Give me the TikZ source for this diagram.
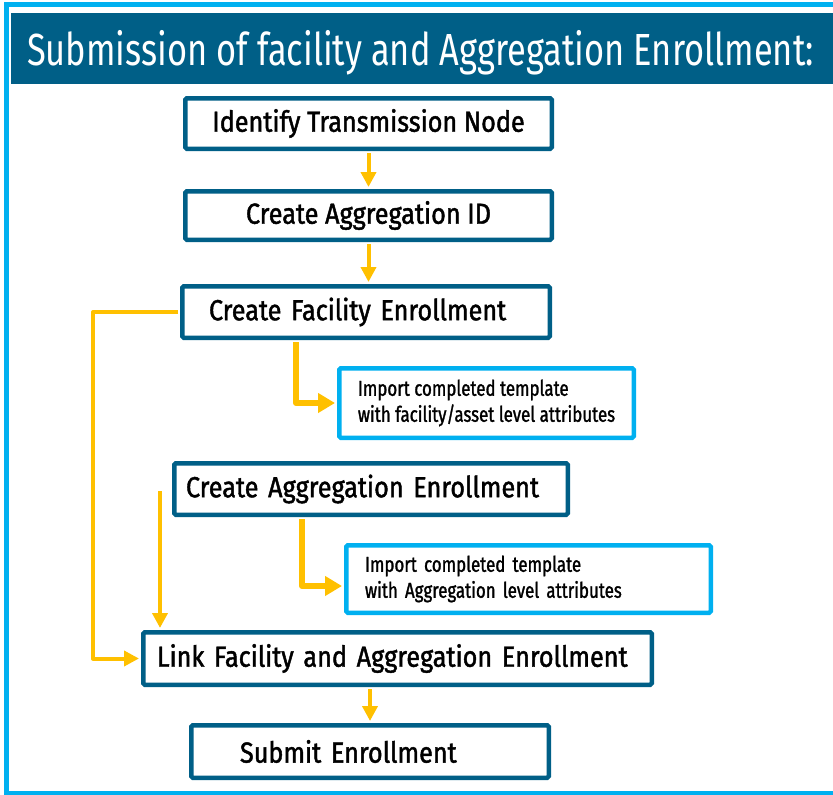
\documentclass[tikz,border=0pt]{standalone}
\usepackage{fontspec}
\setmainfont{Fira Sans}[FakeStretch=0.765]
\newfontfamily\boxfont{Fira Sans}[FakeStretch=0.87,FakeBold=1.5]
\newfontfamily\notefont{Fira Sans}[FakeStretch=0.785,FakeBold=1.3]
\usetikzlibrary{arrows.meta}
\definecolor{frameblue}{RGB}{0,95,135}
\definecolor{skyblue}{RGB}{0,176,240}
\definecolor{gold}{RGB}{255,192,0}

\begin{document}
\begin{tikzpicture}[x=1pt, y=-1pt,
    stepbox/.style={draw=frameblue, line width=4.5pt, fill=white, rounded corners=1.5pt,
      align=left, inner ysep=0pt, font=\boxfont\fontsize{29}{32}\selectfont},
    importbox/.style={draw=skyblue, line width=4.5pt, fill=white, rounded corners=1.5pt,
      align=left, inner ysep=0pt, font=\notefont\fontsize{21.5}{26}\selectfont},
    flow/.style={draw=gold, line width=4pt, line join=round, shorten <=2pt, shorten >=2pt,
      -{Triangle[length=15pt,width=15pt]}},
    importflow/.style={flow, line width=6pt, -{Triangle[length=17pt,width=19pt]}}]
            % page, frame and title bar
            \useasboundingbox (0,0) rectangle (833,795);
            \draw[skyblue, line width=5pt] (6.5,4.5) rectangle (850,793.5);
            \fill[frameblue] (11,13) rectangle (833,84);
            \node[anchor=base west, text=white, inner sep=0pt, font=\fontsize{45}{50}\selectfont] (title) at (27,65)
              {Submission of facility and Aggregation Enrollment:};
            % steps
            \node[stepbox, minimum width=366.5pt, minimum height=50.5pt, align=center] (ident) at (368.5,123.5) {Identify Transmission Node};
            \node[stepbox, minimum width=366.5pt, minimum height=48.5pt, align=center] (aggid) at (368.5,215.5) {Create Aggregation ID};
            \node[stepbox, minimum height=51.5pt, inner xsep=26.75pt, text width=314pt] (fac) at (366,312) {Create Facility Enrollment};
            \node[importbox, minimum width=294.5pt, minimum height=69.5pt] (imp1) at (486.5,403) {Import completed template\\with facility/asset level attributes};
            \node[stepbox, minimum height=51.5pt, inner xsep=11.75pt, text width=370pt] (agg) at (371,489) {Create Aggregation Enrollment};
            \node[importbox, minimum height=67.5pt, inner xsep=18.75pt, text width=327pt] (imp2) at (528.5,579) {Import completed template\\with Aggregation level attributes};
            \node[stepbox, minimum height=52.5pt, inner xsep=13.75pt, text width=481pt] (link) at (397.5,658.5) {Link Facility and Aggregation Enrollment};
            \node[stepbox, minimum height=52.5pt, inner xsep=48.75pt, text width=260pt] (submit) at (370,751.5) {Submit Enrollment};
            % arrows
            \draw[flow] (ident) -- (aggid);
            \draw[flow] (aggid.south) -- (aggid.south |- fac.north);
            \draw[flow] (fac.west) -- ++(-87,0) |- (link.west);
            \draw[importflow] ([xshift=-70pt]fac.south) |- (imp1.west);
            \draw[flow] ([xshift=-12pt]agg.west) -- ([xshift=-12pt]agg.west |- link.north);
            \draw[importflow] ([xshift=-69pt]agg.south) |- ([yshift=-7pt]imp2.west);
            \draw[flow] (link.south -| submit.north) -- (submit.north);
        \end{tikzpicture}
\end{document}
